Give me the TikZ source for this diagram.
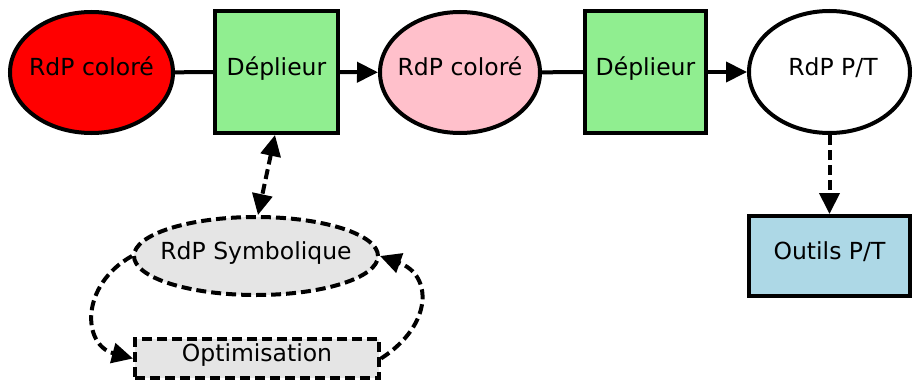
\documentclass[tikz,border=0pt]{standalone}
\usepackage{fontspec}
\setmainfont{DejaVu Sans}
\usetikzlibrary{shapes.geometric,arrows.meta}
\definecolor{cRed}{HTML}{FF0000}
\definecolor{cGreen}{HTML}{90EE90}
\definecolor{cPink}{HTML}{FFC0CB}
\definecolor{cBlue}{HTML}{ADD8E6}
\definecolor{cGray}{HTML}{E5E5E5}
\newcommand{\zb}[1]{\makebox[0pt]{#1}}
\begin{document}
\begin{tikzpicture}[x=1pt,y=-1pt,
  base/.style={draw=black, line width=4pt, inner sep=0pt, text height=12pt, text depth=6pt,
    font=\fontsize{23.5}{28}\selectfont},
  ell/.style={base, ellipse},
  boxnode/.style={base, rectangle},
  dsh/.style={dash pattern=on 10pt off 5pt},
  plainline/.style={line width=4pt},
  tip/.tip={Triangle[length=21pt,width=20pt]},
  arr/.style={line width=4pt, -tip},
  darr/.style={line width=4pt, dsh, -tip},
  ddarr/.style={line width=4pt, dsh, tip-tip},
]
\useasboundingbox (0,0) rectangle (913,380);
\node[ell, fill=cRed, minimum width=163pt, minimum height=121pt] (c1) at (91.5,72.5) {\zb{RdP coloré}};
\node[boxnode, fill=cGreen, minimum width=123pt, minimum height=122pt] (d1) at (276.5,72) {\zb{Déplieur}};
\node[ell, fill=cPink, minimum width=160pt, minimum height=121pt] (c2) at (460,72.5) {\zb{RdP coloré}};
\node[boxnode, fill=cGreen, minimum width=121pt, minimum height=122pt] (d2) at (645.5,72) {\zb{Déplieur}};
\node[ell, fill=white, minimum width=161pt, minimum height=122pt] (pt) at (829.5,72) {\zb{\hspace{7pt}RdP P/T}};
\node[boxnode, fill=cBlue, minimum width=161pt, minimum height=80pt] (outils) at (829.5,256) {\zb{Outils P/T}};
\node[ell, dsh, fill=cGray, minimum width=244pt, minimum height=78pt] (sym) at (256,256) {\zb{RdP Symbolique}};
\node[boxnode, dsh, fill=cGray, minimum width=244pt, minimum height=39pt] (opt) at (257,358.5) {\zb{Optimisation}};

\draw[plainline] (c1) -- (d1);
\draw[arr] (d1) -- (c2);
\draw[plainline] (c2) -- (d2);
\draw[arr] (d2) -- (pt);
\draw[darr] (pt.south) -- (outils.north);
\draw[ddarr] ([xshift=-1.5pt]d1.south) -- ([xshift=2pt]sym.north);
\draw[darr] (sym.west) .. controls (80,285) and (82,345) .. (opt.west);
\draw[darr] (opt.east) .. controls (433,325) and (433,275) .. (sym.east);
\end{tikzpicture}
\end{document}
